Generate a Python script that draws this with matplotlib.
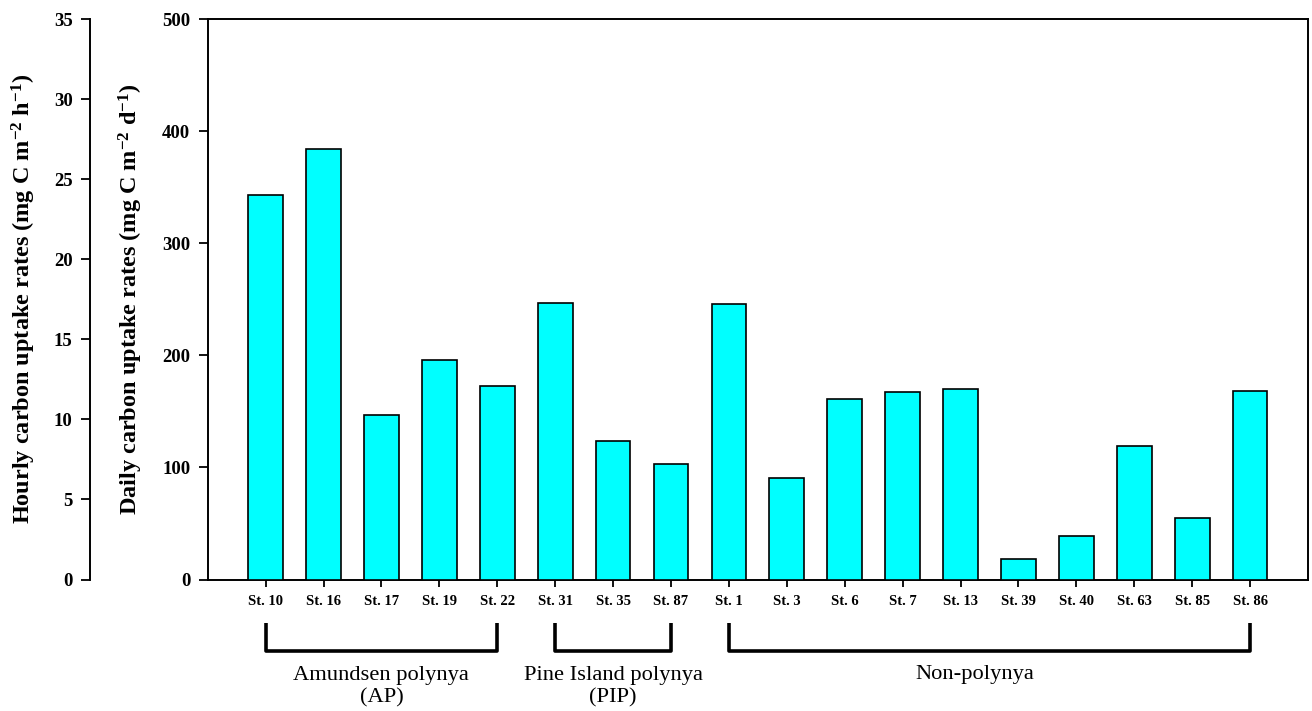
import matplotlib
matplotlib.use("Agg")
import matplotlib.pyplot as plt
import numpy as np

stations = ["St. 10", "St. 16", "St. 17", "St. 19", "St. 22",
            "St. 31", "St. 35", "St. 87",
            "St. 1", "St. 3", "St. 6", "St. 7", "St. 13", "St. 39", "St. 40",
            "St. 63", "St. 85", "St. 86"]
daily_uptake = [343.1, 384.1, 147.1, 195.8, 172.3,
                246.6, 123.5, 103.3,
                245.8, 90.5, 161.3, 167.3, 169.9, 18.6, 39.1,
                119.4, 54.9, 168.4]
groups = ["Amundsen polynya\n(AP)", "Pine Island polynya\n(PIP)", "Non-polynya"]
group_ranges = [(0, 4), (5, 7), (8, 17)]
daily_ticks = [0, 100, 200, 300, 400, 500]
hourly_ticks = [0, 5, 10, 15, 20, 25, 30, 35]

serif = ["Liberation Serif", "DejaVu Serif"]
plt.rcParams["font.family"] = serif
plt.rcParams["mathtext.fontset"] = "custom"
plt.rcParams["mathtext.bf"] = "Liberation Serif:bold"
plt.rcParams["mathtext.rm"] = "Liberation Serif:bold"
plt.rcParams["mathtext.it"] = "Liberation Serif:bold"
plt.rcParams["mathtext.default"] = "bf"

W, H = 1312, 711
fig = plt.figure(figsize=(W / 100, H / 100), dpi=100)
left_px, right_px, top_px, bot_px = 207.7, 1308, 19, 579.5
ax = fig.add_axes([left_px / W, 1 - bot_px / H, (right_px - left_px) / W, (bot_px - top_px) / H])

x = np.arange(len(stations))
ax.bar(x, daily_uptake, width=0.6, color="#00FFFF", edgecolor="black", linewidth=1.2, zorder=3)
ax.set_xlim(-1, 18)
ax.set_ylim(0, 500)
ax.set_yticks(daily_ticks)
ax.set_xticks(x)
ax.set_xticklabels(stations, fontsize=10.5, fontweight="bold")
for s in ax.spines.values():
    s.set_linewidth(1.4)
ax.tick_params(axis="y", direction="out", length=6.5, width=1.3, pad=6, labelsize=13.5)
ax.tick_params(axis="x", direction="out", length=5, width=1.3, pad=6)
for t in ax.get_yticklabels():
    t.set_fontweight("bold")
ax.set_ylabel("Daily carbon uptake rates (mg C m$^{-2}$ d$^{-1}$)",
              fontsize=17.5, fontweight="bold")
ax.yaxis.set_label_coords((145 - left_px) / (right_px - left_px), 0.5)

ax2 = ax.twinx()
ax2.set_ylim(0, 35)
ax2.set_yticks(hourly_ticks)
ax2.yaxis.set_ticks_position("left")
ax2.yaxis.set_label_position("left")
ax2.spines["left"].set_position(("axes", (90 - left_px) / (right_px - left_px)))
ax2.spines["left"].set_linewidth(1.4)
for k in ["right", "top", "bottom"]:
    ax2.spines[k].set_visible(False)
ax2.tick_params(axis="y", direction="out", length=6.5, width=1.3, pad=6, labelsize=13.5)
for t in ax2.get_yticklabels():
    t.set_fontweight("bold")
ax2.set_ylabel("Hourly carbon uptake rates (mg C m$^{-2}$ h$^{-1}$)",
               fontsize=17.5, fontweight="bold")
ax2.yaxis.set_label_coords((38 - left_px) / (right_px - left_px), 0.5)

# group brackets
tr = ax.get_xaxis_transform()
def axy(ypx):
    return (bot_px - ypx) / (bot_px - top_px)
y_top, y_bot = axy(623), axy(651)
label_offsets = [0.0, 0.0, -0.25]
for (a, b), g, off in zip(group_ranges, groups, label_offsets):
    ax.plot([a, a, b, b], [y_top, y_bot, y_bot, y_top], color="black", lw=2.6,
            transform=tr, clip_on=False, solid_joinstyle="round", solid_capstyle="butt")
    ycen = axy(687) if "\n" in g else axy(675)
    ax.text((a + b) / 2 + off, ycen, g, transform=tr, ha="center", va="center",
            fontsize=16.2, linespacing=1.2, clip_on=False)

fig.savefig("out.png", dpi=100)
